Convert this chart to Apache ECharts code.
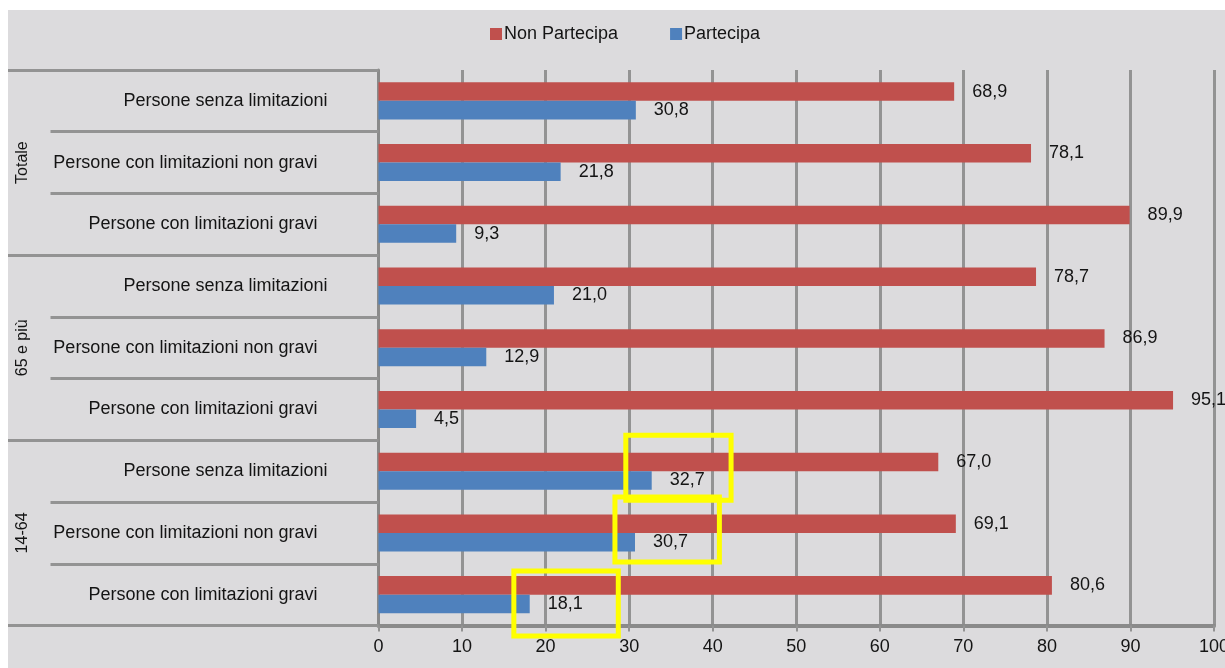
<!DOCTYPE html>
<html>
<head>
<meta charset="utf-8">
<script src="https://cdn.jsdelivr.net/npm/echarts@6/dist/echarts.min.js"></script>
<style>
  html, body { margin: 0; padding: 0; background: #ffffff; overflow: hidden; }
  #chart { position: absolute; left: 8px; top: 10px; width: 1217px; height: 658px; }
</style>
</head>
<body>
<div id="chart"></div>
<script>
// Age groups (outer level of the category axis) and conditions (inner level)
const groups = ['Totale', '65 e più', '14-64'];
const conditions = [
  'Persone senza limitazioni',
  'Persone con limitazioni non gravi',
  'Persone con limitazioni gravi'
];
// Percent values, one per row (group x condition), top to bottom
const nonPartecipa = [68.9, 78.1, 89.9, 78.7, 86.9, 95.1, 67.0, 69.1, 80.6];
const partecipa    = [30.8, 21.8, 9.3, 21.0, 12.9, 4.5, 32.7, 30.7, 18.1];
const seriesNames = ['Non Partecipa', 'Partecipa'];
const xTicks = { min: 0, max: 100, step: 10 };

// Highlighted value labels: row index and the value range the frame spans
const highlights = [
  { row: 6, from: 29.6, to: 42.2 },
  { row: 7, from: 28.3, to: 40.8 },
  { row: 8, from: 16.2, to: 28.7 }
];

const categories = [];
groups.forEach(() => conditions.forEach(c => categories.push(c)));

const fmt = v => v.toFixed(1).replace('.', ',');
const FONT = '"Liberation Sans", Arial, sans-serif';
const GRID_GRAY = '#939393';

const chart = echarts.init(document.getElementById('chart'));

const labelStyle = {
  show: true,
  position: 'right',
  distance: 18,
  fontSize: 18,
  color: '#141414',
  fontFamily: FONT,
  formatter: p => fmt(p.value)
};

chart.setOption({
  backgroundColor: '#dcdbdd',
  textStyle: { fontFamily: FONT },
  animation: false,
  legend: {
    data: seriesNames,
    left: 477,
    top: 10,
    icon: 'rect',
    itemWidth: 12,
    itemHeight: 12,
    itemGap: 52,
    itemStyle: { borderWidth: 0 },
    textStyle: { fontSize: 18, color: '#141414', padding: [0, 0, 0, -3] }
  },
  grid: {
    left: 370.5, right: 11, top: 60, bottom: 42.5,
    containLabel: false,
    outerBoundsMode: 'none'
  },
  xAxis: {
    type: 'value',
    min: xTicks.min,
    max: xTicks.max,
    interval: xTicks.step,
    axisLine: { show: true, lineStyle: { color: '#8a8a8a', width: 4 } },
    axisTick: { show: true, length: 6, lineStyle: { color: GRID_GRAY, width: 2 } },
    splitLine: { show: true, lineStyle: { color: GRID_GRAY, width: 3 } },
    axisLabel: { fontSize: 18, color: '#141414', margin: 13 }
  },
  yAxis: [
    {
      type: 'category',
      inverse: true,
      data: categories,
      axisLine: { show: true, lineStyle: { color: '#8a8a8a', width: 3 } },
      axisTick: { show: true, interval: 0, length: 328, lineStyle: { color: GRID_GRAY, width: 3 } },
      axisLabel: {
        interval: 0,
        margin: 51,
        fontSize: 18,
        color: '#141414',
        formatter: (v, i) => (i % 3 === 0 ? '{a|' + v + '}' : '{b|' + v + '}'),
        rich: {
          a: { fontSize: 18, color: '#141414', fontFamily: FONT },
          b: { fontSize: 18, color: '#141414', fontFamily: FONT, padding: [0, 10, 0, 0] }
        }
      }
    },
    {
      type: 'category',
      inverse: true,
      position: 'left',
      data: groups,
      axisLine: { show: false },
      axisTick: { show: true, interval: 0, length: 370.5, lineStyle: { color: GRID_GRAY, width: 3 } },
      axisLabel: { interval: 0, rotate: 90, margin: 348, fontSize: 16, color: '#141414' }
    }
  ],
  series: [
    {
      name: seriesNames[0],
      type: 'bar',
      data: nonPartecipa,
      yAxisIndex: 0,
      barGap: '0%',
      barCategoryGap: '40%',
      itemStyle: { color: '#c0504d' },
      label: labelStyle
    },
    {
      name: seriesNames[1],
      type: 'bar',
      data: partecipa,
      yAxisIndex: 0,
      barGap: '0%',
      barCategoryGap: '40%',
      itemStyle: { color: '#4f81bd' },
      label: labelStyle
    }
  ]
});

// Yellow frames around selected value labels, placed through the axes
const frameOffsets = [[-36, 29], [-36, 29], [-23.6, 41.4]];
const frames = highlights.map((h, k) => {
  const x0 = chart.convertToPixel({ xAxisIndex: 0 }, h.from);
  const x1 = chart.convertToPixel({ xAxisIndex: 0 }, h.to);
  const yc = chart.convertToPixel({ yAxisIndex: 0 }, h.row);
  const [d0, d1] = frameOffsets[k];
  return {
    type: 'rect',
    z: 100,
    shape: { x: x0, y: yc + d0, width: x1 - x0, height: d1 - d0 },
    style: { fill: 'none', stroke: '#ffff00', lineWidth: 5 }
  };
});
chart.setOption({ graphic: frames });
</script>
</body>
</html>
